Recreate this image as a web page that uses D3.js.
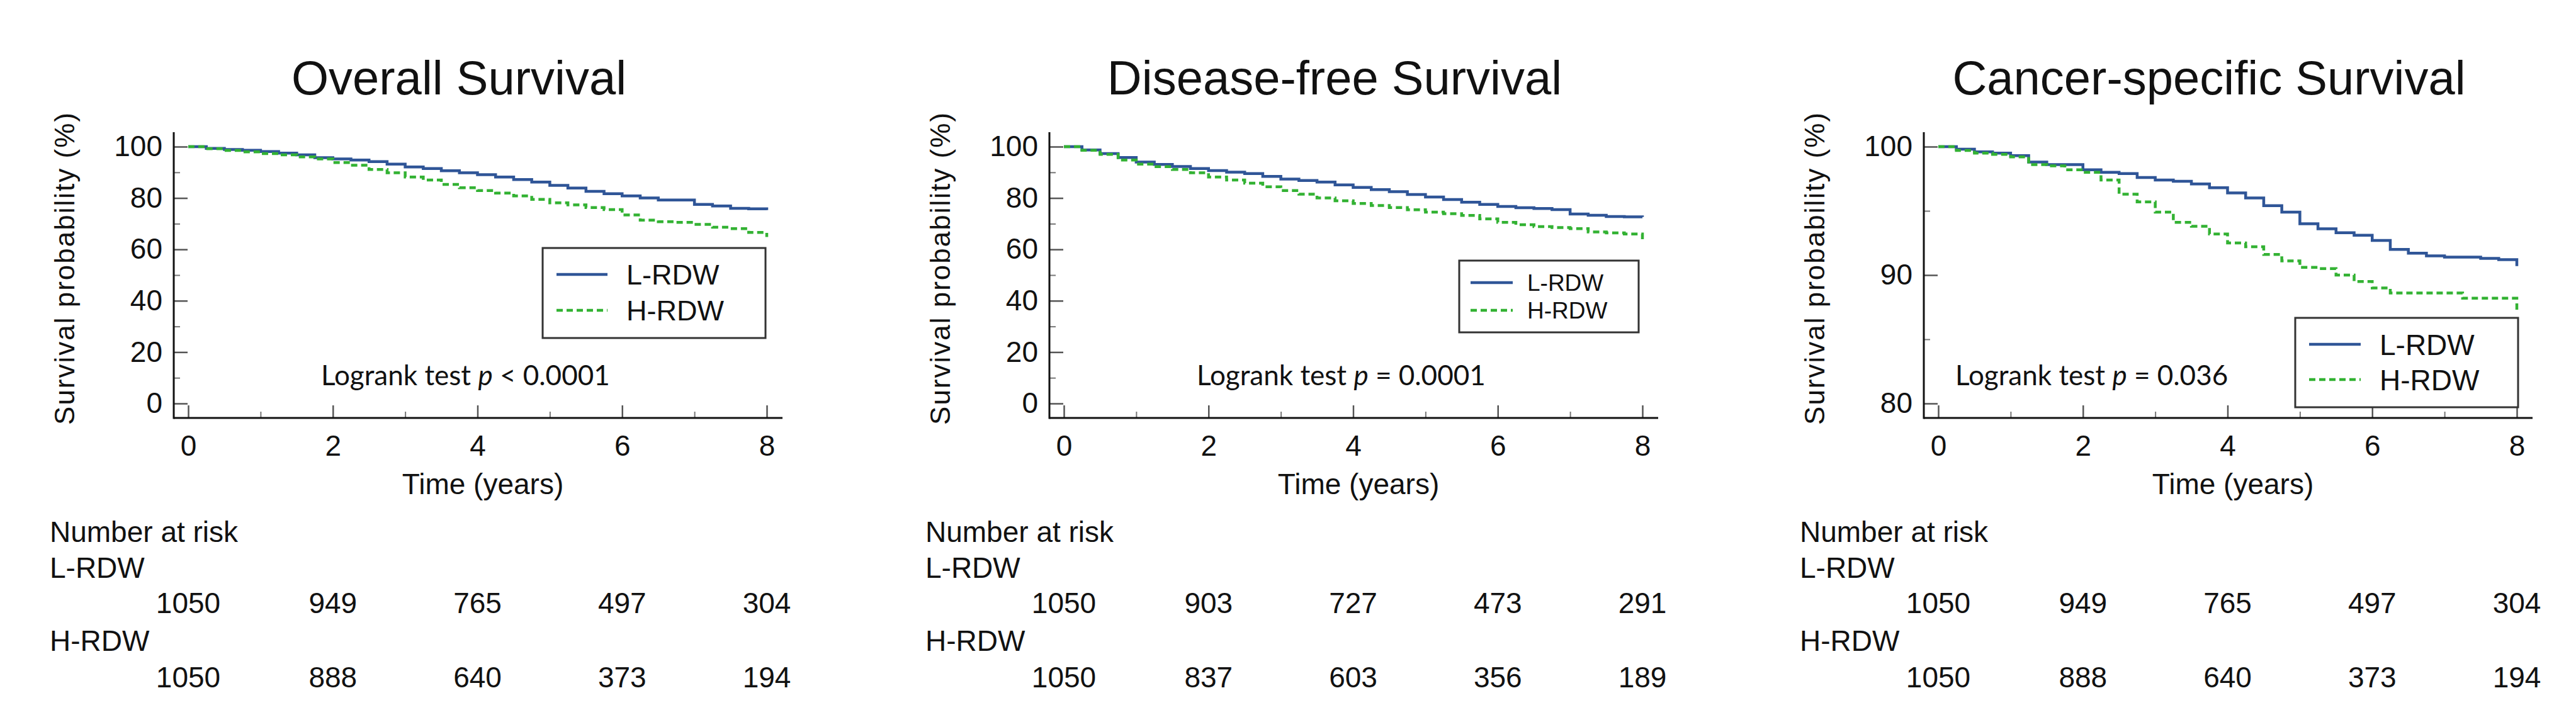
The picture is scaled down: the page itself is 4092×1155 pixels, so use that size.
<!DOCTYPE html>
<html>
<head>
<meta charset="utf-8">
<script src="https://cdn.jsdelivr.net/npm/d3@7"></script>
<style>
  body { margin: 0; background: #fff; }
  svg text { font-family: "Liberation Sans", Arial, sans-serif; fill: #111; }
  .logrank { font-family: Lato, "Open Sans", sans-serif; }
</style>
</head>
<body>
<div id="chart"></div>
<script>
// Time grid for the Kaplan-Meier readings (years)
const timeGrid = [0, 0.25, 0.5, 0.75, 1, 1.25, 1.5, 1.75, 2, 2.25, 2.5, 2.75, 3, 3.25, 3.5, 3.75,
                  4, 4.25, 4.5, 4.75, 5, 5.25, 5.5, 5.75, 6, 6.25, 6.5, 6.75, 7, 7.25, 7.5, 7.75, 8];

// Overall survival (%)
const osLow  = [100, 99.3, 98.9, 98.6, 98.1, 97.5, 96.8, 95.7, 95.2, 94.8, 94.2, 93.2, 92.1, 91.5, 90.6, 89.8,
                89.1, 88.2, 87.2, 86.2, 84.9, 83.9, 82.6, 81.7, 80.8, 80.0, 79.2, 79.2, 77.5, 76.9, 76.0, 75.8, 75.3];
const osHigh = [100, 99.2, 98.5, 98.0, 97.3, 96.8, 96.0, 95.2, 93.8, 92.8, 91.1, 89.8, 88.2, 87.0, 85.3, 84.0,
                82.9, 81.9, 80.8, 79.5, 78.1, 77.3, 76.3, 75.5, 73.4, 71.4, 70.8, 70.5, 69.7, 68.6, 68.1, 66.6, 64.8];

// Disease-free survival (%)
const dfsLow  = [100, 98.7, 97.3, 95.8, 94.0, 93.1, 92.3, 91.5, 90.7, 90.1, 89.5, 88.4, 87.4, 86.8, 86.2, 85.1,
                 84.1, 83.3, 82.5, 81.4, 80.4, 79.4, 78.4, 77.5, 76.7, 76.2, 75.9, 75.5, 73.8, 73.3, 72.8, 72.7, 72.6];
const dfsHigh = [100, 98.6, 97.0, 94.8, 93.2, 92.2, 91.1, 89.8, 88.2, 87.0, 85.8, 84.4, 82.9, 81.5, 80.0, 78.9,
                 77.9, 77.1, 76.3, 75.4, 74.5, 73.9, 73.2, 71.9, 70.5, 69.6, 68.9, 68.5, 68.1, 66.8, 66.4, 66.0, 64.0];

// Cancer-specific survival (%)
const cssLow  = [100, 99.8, 99.6, 99.5, 99.3, 98.8, 98.6, 98.6, 98.2, 98.0, 97.9, 97.6, 97.4, 97.3, 97.1, 96.8,
                 96.4, 96.0, 95.4, 94.9, 94.0, 93.6, 93.3, 93.1, 92.7, 92.0, 91.7, 91.5, 91.4, 91.4, 91.3, 91.2, 90.7];
const cssHigh = [100, 99.7, 99.5, 99.4, 99.2, 98.6, 98.5, 98.2, 98.0, 97.4, 96.3, 95.7, 94.9, 94.1, 93.8, 93.2,
                 92.5, 92.2, 91.6, 91.1, 90.6, 90.5, 90.0, 89.5, 89.0, 88.6, 88.6, 88.6, 88.6, 88.2, 88.2, 88.2, 87.2];

// Number at risk
const riskTimes = [0, 2, 4, 6, 8];
const osRiskLow   = [1050, 949, 765, 497, 304];
const osRiskHigh  = [1050, 888, 640, 373, 194];
const dfsRiskLow  = [1050, 903, 727, 473, 291];
const dfsRiskHigh = [1050, 837, 603, 356, 189];
const cssRiskLow  = [1050, 949, 765, 497, 304];
const cssRiskHigh = [1050, 888, 640, 373, 194];

const groupNames = ["L-RDW", "H-RDW"];
const xTicks = [0, 2, 4, 6, 8];
const xMinor = [1, 3, 5, 7];

const panels = [
    { title: "Overall Survival", low: osLow, high: osHigh, riskLow: osRiskLow, riskHigh: osRiskHigh,
      yDomain: [0, 100], yTicks: [0, 20, 40, 60, 80, 100], yMinor: [10, 30, 50, 70, 90],
      pOp: "<", pVal: "0.0001" },
    { title: "Disease-free Survival", low: dfsLow, high: dfsHigh, riskLow: dfsRiskLow, riskHigh: dfsRiskHigh,
      yDomain: [0, 100], yTicks: [0, 20, 40, 60, 80, 100], yMinor: [10, 30, 50, 70, 90],
      pOp: "=", pVal: "0.0001" },
    { title: "Cancer-specific Survival", low: cssLow, high: cssHigh, riskLow: cssRiskLow, riskHigh: cssRiskHigh,
      yDomain: [80, 100], yTicks: [80, 90, 100], yMinor: [85, 95],
      pOp: "=", pVal: "0.036" }
];

// layout for each panel (pixels, relative to panel origin)
const layouts = [
    { ox: 0,    pX: 234, legend: { x: 862, y: 394, w: 354, h: 143, fs: 45, lx: 22, llen: 81, tx: 133, r1: 42, r2: 99 } },
    { ox: 1391, pX: 234, legend: { x: 927, y: 414, w: 285, h: 114, fs: 37, lx: 18, llen: 67, tx: 108, r1: 35, r2: 79 } },
    { ox: 2780, pX: 50,  legend: { x: 866, y: 505, w: 354, h: 142, fs: 46, lx: 22, llen: 82, tx: 134, r1: 42, r2: 98 } }
];

const W = 4092, H = 1155;
const colors = { low: "#2f5597", high: "#33b233" };

const svg = d3.select("#chart").append("svg")
    .attr("width", W)
    .attr("height", H)
    .style("background", "#fff");

panels.forEach((p, i) => {
    const lay = layouts[i];
    const g = svg.append("g").attr("transform", `translate(${lay.ox},0)`);

    const axisX = 276, axisY = 664;
    const x = d3.scaleLinear().domain([0, 8]).range([299, 1218]);
    const y = d3.scaleLinear().domain(p.yDomain).range([641, 233]);

    // title
    g.append("text")
        .attr("x", 729).attr("y", 150)
        .attr("text-anchor", "middle")
        .style("font-size", "76px")
        .text(p.title);

    // y axis ticks (inward)
    const yAxis = d3.axisLeft(y).tickValues(p.yTicks).tickSizeInner(-22).tickSizeOuter(0).tickPadding(18);
    const yg = g.append("g").attr("transform", `translate(${axisX},0)`).call(yAxis);
    yg.select(".domain").remove();
    yg.selectAll("line").attr("stroke", "#555").attr("stroke-width", 2.5);
    yg.selectAll("text").style("font-size", "46px").attr("fill", "#111")
        .style("font-family", "'Liberation Sans', Arial, sans-serif");

    const yMinorAxis = d3.axisLeft(y).tickValues(p.yMinor).tickSizeInner(-10).tickSizeOuter(0).tickFormat("");
    const ymg = g.append("g").attr("transform", `translate(${axisX},0)`).call(yMinorAxis);
    ymg.select(".domain").remove();
    ymg.selectAll("line").attr("stroke", "#777").attr("stroke-width", 2);

    // x axis ticks (inward)
    const xAxis = d3.axisBottom(x).tickValues(xTicks).tickSizeInner(-20).tickSizeOuter(0).tickPadding(27);
    const xg = g.append("g").attr("transform", `translate(0,${axisY})`).call(xAxis);
    xg.select(".domain").remove();
    xg.selectAll("line").attr("stroke", "#555").attr("stroke-width", 2.5);
    xg.selectAll("text").style("font-size", "46px").attr("fill", "#111")
        .style("font-family", "'Liberation Sans', Arial, sans-serif");

    const xMinorAxis = d3.axisBottom(x).tickValues(xMinor).tickSizeInner(-10).tickSizeOuter(0).tickFormat("");
    const xmg = g.append("g").attr("transform", `translate(0,${axisY})`).call(xMinorAxis);
    xmg.select(".domain").remove();
    xmg.selectAll("line").attr("stroke", "#777").attr("stroke-width", 2);

    // axis lines
    g.append("line")
        .attr("x1", axisX).attr("x2", axisX).attr("y1", 210).attr("y2", axisY + 1.5)
        .attr("stroke", "#111").attr("stroke-width", 3);
    g.append("line")
        .attr("x1", axisX).attr("x2", 1243).attr("y1", axisY).attr("y2", axisY)
        .attr("stroke", "#111").attr("stroke-width", 3);

    // axis titles
    g.append("text")
        .attr("transform", `translate(103,426) rotate(-90)`)
        .attr("text-anchor", "middle")
        .attr("dy", "0.35em")
        .style("font-size", "44px")
        .style("letter-spacing", "2px")
        .text("Survival probability (%)");

    g.append("text")
        .attr("x", 767).attr("y", 785)
        .attr("text-anchor", "middle")
        .style("font-size", "46px")
        .text("Time (years)");

    // survival curves
    const line = d3.line()
        .x((d, j) => x(timeGrid[j]))
        .y(d => y(d))
        .curve(d3.curveStepAfter);

    g.append("path")
        .datum(p.low)
        .attr("d", line)
        .attr("fill", "none")
        .attr("stroke", colors.low)
        .attr("stroke-width", 4.5);

    g.append("path")
        .datum(p.high)
        .attr("d", line)
        .attr("fill", "none")
        .attr("stroke", colors.high)
        .attr("stroke-width", 4.5)
        .attr("stroke-dasharray", "10,6");

    // legend
    const L = lay.legend;
    const lg = g.append("g").attr("transform", `translate(${L.x},${L.y})`);
    lg.append("rect")
        .attr("width", L.w).attr("height", L.h)
        .attr("fill", "#fff")
        .attr("stroke", "#333").attr("stroke-width", 3);
    [[colors.low, null, L.r1, groupNames[0]], [colors.high, "10,6", L.r2, groupNames[1]]].forEach(([c, dash, ry, name]) => {
        lg.append("line")
            .attr("x1", L.lx).attr("x2", L.lx + L.llen)
            .attr("y1", ry).attr("y2", ry)
            .attr("stroke", c).attr("stroke-width", 4.5)
            .attr("stroke-dasharray", dash);
        lg.append("text")
            .attr("x", L.tx).attr("y", ry)
            .attr("dy", "0.36em")
            .style("font-size", L.fs + "px")
            .text(name);
    });

    // logrank annotation
    const lt = g.append("text")
        .attr("class", "logrank")
        .attr("x", axisX + lay.pX).attr("y", 612)
        .style("font-size", "44px");
    lt.append("tspan").text("Logrank test ");
    lt.append("tspan").style("font-style", "italic").text("p");
    lt.append("tspan").text(` ${p.pOp} ${p.pVal}`);

    // number at risk table
    g.append("text").attr("x", 79).attr("y", 861).style("font-size", "46px").text("Number at risk");
    g.append("text").attr("x", 79).attr("y", 918).style("font-size", "46px").text(groupNames[0]);
    g.append("text").attr("x", 79).attr("y", 1034).style("font-size", "46px").text(groupNames[1]);

    g.append("g").selectAll("text")
        .data(p.riskLow)
        .join("text")
        .attr("x", (d, j) => x(riskTimes[j]))
        .attr("y", 974)
        .attr("text-anchor", "middle")
        .style("font-size", "46px")
        .text(d => d);

    g.append("g").selectAll("text")
        .data(p.riskHigh)
        .join("text")
        .attr("x", (d, j) => x(riskTimes[j]))
        .attr("y", 1092)
        .attr("text-anchor", "middle")
        .style("font-size", "46px")
        .text(d => d);
});
</script>
</body>
</html>
